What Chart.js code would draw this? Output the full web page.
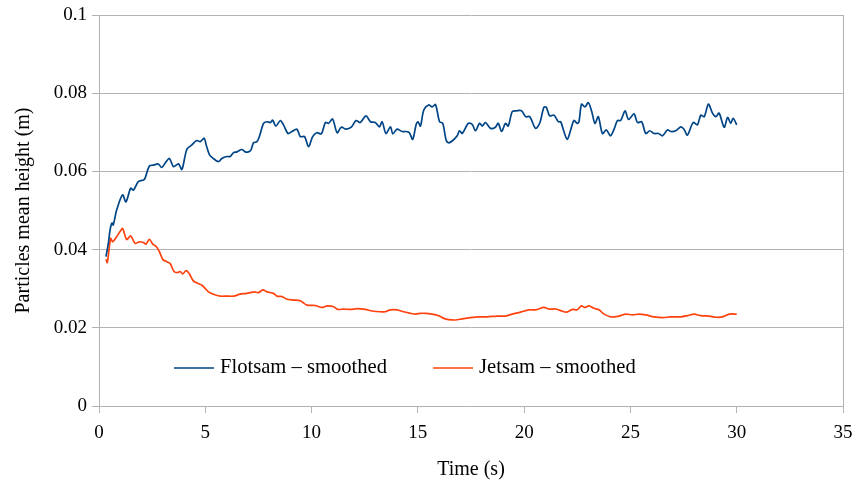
<!DOCTYPE html>
<html>
<head>
<meta charset="utf-8">
<title>Particles mean height</title>
<script src="https://cdn.jsdelivr.net/npm/chart.js@4.4.1/dist/chart.umd.min.js"></script>
<style>
  html, body { margin: 0; padding: 0; background: #fff; }
  #wrap { width: 858px; height: 487px; }
</style>
</head>
<body>
<div id="wrap"><canvas id="chart"></canvas></div>
<script>
// smoothed mean height of the particles, time in s, height in m
const flotsamTime = [
  0.33, 0.45, 0.52, 0.61, 0.67, 0.83, 1.11, 1.27, 1.49, 1.62, 1.85, 2.09, 2.17, 2.37, 2.56,
  2.79, 2.95, 3.16, 3.31, 3.50, 3.63, 3.75, 3.90, 4.13, 4.37, 4.60, 4.76, 4.95, 5.04, 5.20,
  5.38, 5.62, 5.78, 6.01, 6.17, 6.33, 6.49, 6.72, 6.88, 7.03, 7.15, 7.27, 7.43, 7.55, 7.74,
  7.90, 8.06, 8.17, 8.32, 8.53, 8.68, 8.89, 9.08, 9.31, 9.47, 9.67, 9.86, 10.05, 10.25, 10.46,
  10.65, 10.80, 10.99, 11.20, 11.40, 11.62, 11.87, 12.09, 12.29, 12.56, 12.77, 13.00, 13.19, 13.32, 13.50,
  13.71, 13.82, 14.02, 14.26, 14.45, 14.60, 14.76, 14.92, 15.01, 15.12, 15.28, 15.51, 15.67, 15.83, 16.02,
  16.17, 16.33, 16.45, 16.64, 16.85, 16.96, 17.09, 17.37, 17.56, 17.71, 17.90, 18.03, 18.18, 18.42, 18.65,
  18.78, 18.94, 19.12, 19.25, 19.44, 19.63, 19.88, 20.07, 20.26, 20.54, 20.73, 20.93, 21.04, 21.20, 21.40,
  21.61, 21.72, 21.87, 22.03, 22.19, 22.34, 22.50, 22.58, 22.70, 22.86, 23.02, 23.18, 23.33, 23.49, 23.68,
  23.87, 24.06, 24.23, 24.39, 24.54, 24.75, 24.91, 25.17, 25.33, 25.53, 25.72, 25.91, 26.11, 26.32, 26.51,
  26.74, 26.90, 27.13, 27.37, 27.52, 27.68, 27.95, 28.15, 28.31, 28.47, 28.67, 28.86, 29.02, 29.17, 29.41,
  29.57, 29.72, 29.83, 30.00
];
const flotsamHeight = [
  0.0382, 0.0420, 0.0450, 0.0468, 0.0463, 0.0501, 0.0540, 0.0522, 0.0557, 0.0552, 0.0574, 0.0578, 0.0583, 0.0614, 0.0616,
  0.0619, 0.0610, 0.0625, 0.0633, 0.0612, 0.0616, 0.0619, 0.0605, 0.0656, 0.0668, 0.0679, 0.0676, 0.0685, 0.0668, 0.0642,
  0.0633, 0.0625, 0.0633, 0.0638, 0.0638, 0.0648, 0.0650, 0.0656, 0.0650, 0.0650, 0.0655, 0.0673, 0.0676, 0.0690, 0.0723,
  0.0727, 0.0725, 0.0731, 0.0716, 0.0730, 0.0719, 0.0697, 0.0702, 0.0708, 0.0689, 0.0689, 0.0663, 0.0689, 0.0699, 0.0696,
  0.0725, 0.0723, 0.0734, 0.0699, 0.0713, 0.0708, 0.0713, 0.0730, 0.0725, 0.0742, 0.0727, 0.0725, 0.0714, 0.0727, 0.0697,
  0.0714, 0.0696, 0.0708, 0.0702, 0.0702, 0.0699, 0.0682, 0.0720, 0.0727, 0.0716, 0.0757, 0.0770, 0.0765, 0.0771, 0.0727,
  0.0723, 0.0680, 0.0673, 0.0679, 0.0691, 0.0704, 0.0697, 0.0723, 0.0720, 0.0704, 0.0723, 0.0716, 0.0725, 0.0710, 0.0713,
  0.0723, 0.0702, 0.0723, 0.0716, 0.0753, 0.0755, 0.0755, 0.0740, 0.0740, 0.0710, 0.0723, 0.0764, 0.0764, 0.0742, 0.0744,
  0.0727, 0.0727, 0.0702, 0.0682, 0.0706, 0.0730, 0.0723, 0.0727, 0.0772, 0.0765, 0.0776, 0.0753, 0.0723, 0.0740, 0.0697,
  0.0706, 0.0691, 0.0708, 0.0730, 0.0730, 0.0755, 0.0733, 0.0747, 0.0725, 0.0727, 0.0697, 0.0704, 0.0697, 0.0697, 0.0691,
  0.0706, 0.0702, 0.0704, 0.0714, 0.0708, 0.0693, 0.0725, 0.0719, 0.0744, 0.0740, 0.0772, 0.0749, 0.0740, 0.0749, 0.0713,
  0.0738, 0.0723, 0.0736, 0.0719
];

const jetsamTime = [
  0.33, 0.39, 0.49, 0.55, 0.64, 0.83, 0.99, 1.11, 1.30, 1.49, 1.70, 1.90, 2.09, 2.21, 2.37,
  2.53, 2.69, 2.84, 3.00, 3.19, 3.34, 3.53, 3.69, 3.82, 3.94, 4.10, 4.25, 4.44, 4.63, 4.84,
  4.99, 5.15, 5.38, 5.70, 6.01, 6.33, 6.64, 6.96, 7.11, 7.30, 7.50, 7.71, 7.90, 8.21, 8.37,
  8.61, 8.84, 9.15, 9.47, 9.78, 10.17, 10.49, 10.73, 11.04, 11.23, 11.51, 11.82, 12.14, 12.53, 12.85,
  13.24, 13.47, 13.71, 14.02, 14.33, 14.65, 14.89, 15.12, 15.36, 15.67, 15.98, 16.22, 16.45, 16.77, 17.09,
  17.48, 17.87, 18.26, 18.73, 19.13, 19.44, 19.83, 20.22, 20.54, 20.93, 21.16, 21.48, 21.72, 22.00, 22.27,
  22.50, 22.69, 22.85, 23.05, 23.28, 23.52, 23.76, 24.07, 24.39, 24.78, 25.09, 25.41, 25.72, 26.11, 26.51,
  26.90, 27.37, 27.68, 28.00, 28.31, 28.70, 29.02, 29.33, 29.65, 30.00
];
const jetsamHeight = [
  0.0375, 0.0367, 0.0408, 0.0429, 0.0420, 0.0433, 0.0446, 0.0454, 0.0426, 0.0435, 0.0416, 0.0420, 0.0418, 0.0414, 0.0426,
  0.0414, 0.0408, 0.0395, 0.0375, 0.0369, 0.0365, 0.0344, 0.0341, 0.0344, 0.0338, 0.0346, 0.0338, 0.0320, 0.0314, 0.0309,
  0.0301, 0.0292, 0.0286, 0.0281, 0.0281, 0.0281, 0.0286, 0.0288, 0.0290, 0.0292, 0.0290, 0.0297, 0.0292, 0.0288, 0.0281,
  0.0280, 0.0273, 0.0271, 0.0269, 0.0258, 0.0257, 0.0252, 0.0256, 0.0254, 0.0247, 0.0248, 0.0247, 0.0249, 0.0247, 0.0243,
  0.0241, 0.0241, 0.0246, 0.0246, 0.0241, 0.0237, 0.0235, 0.0237, 0.0237, 0.0235, 0.0231, 0.0224, 0.0221, 0.0220, 0.0223,
  0.0226, 0.0228, 0.0228, 0.0230, 0.0230, 0.0235, 0.0240, 0.0246, 0.0246, 0.0252, 0.0248, 0.0248, 0.0244, 0.0240, 0.0247,
  0.0246, 0.0256, 0.0252, 0.0256, 0.0250, 0.0246, 0.0235, 0.0228, 0.0229, 0.0235, 0.0233, 0.0235, 0.0233, 0.0228, 0.0226,
  0.0228, 0.0228, 0.0231, 0.0235, 0.0231, 0.0230, 0.0227, 0.0228, 0.0235, 0.0235
];

const xTicks = [0, 5, 10, 15, 20, 25, 30, 35];
const yTicks = [0, 0.02, 0.04, 0.06, 0.08, 0.1];

const gridColor = "#b3b3b3";
const serif = "'Liberation Serif', 'DejaVu Serif', serif";

function points(xs, ys) {
  return xs.map((x, i) => ({ x: x, y: ys[i] }));
}

// legend drawn inside the plot area, one row near the bottom
const insideLegend = {
  id: "insideLegend",
  afterDraw(chart) {
    const { ctx, chartArea } = chart;
    const y = chartArea.bottom - 38;
    let x = chartArea.left + 75;
    ctx.save();
    ctx.font = "20.6px " + serif;
    ctx.textBaseline = "middle";
    chart.data.datasets.forEach((ds) => {
      ctx.strokeStyle = ds.borderColor;
      ctx.lineWidth = 1.5;
      ctx.beginPath();
      ctx.moveTo(x, y);
      ctx.lineTo(x + 40, y);
      ctx.stroke();
      ctx.fillStyle = "#000";
      ctx.fillText(ds.label, x + 46, y);
      x += 46 + ctx.measureText(ds.label).width + 46;
    });
    ctx.restore();
  },
};

new Chart(document.getElementById("chart"), {
  type: "line",
  data: {
    datasets: [
      {
        label: "Flotsam – smoothed",
        data: points(flotsamTime, flotsamHeight),
        borderColor: "#004586",
        borderWidth: 1.7,
        pointRadius: 0,
        tension: 0.3,
      },
      {
        label: "Jetsam – smoothed",
        data: points(jetsamTime, jetsamHeight),
        borderColor: "#ff420e",
        borderWidth: 1.7,
        pointRadius: 0,
        tension: 0.3,
      },
    ],
  },
  options: {
    responsive: true,
    maintainAspectRatio: false,
    animation: false,
    layout: { padding: { top: 15, right: 15, left: 0, bottom: 0 } },
    plugins: {
      legend: { display: false },
      tooltip: { enabled: false },
    },
    scales: {
      x: {
        type: "linear",
        min: 0,
        max: 35,
        afterBuildTicks: (scale) => { scale.ticks = xTicks.map((v) => ({ value: v })); },
        afterFit: (scale) => {
          scale.height = 81;
          scale.paddingLeft = 0;
          scale.paddingRight = 0;
        },
        ticks: { color: "#000", font: { family: serif, size: 19 }, padding: 9, maxRotation: 0 },
        grid: {
          color: (c) => (c.tick && c.tick.value === 35 ? gridColor : "rgba(0,0,0,0)"),
          tickColor: gridColor,
          tickLength: 7,
        },
        border: { color: gridColor },
        title: {
          display: true,
          text: "Time (s)",
          color: "#000",
          font: { family: serif, size: 20 },
          padding: { top: 4, bottom: 5 },
        },
      },
      y: {
        min: 0,
        max: 0.1,
        afterBuildTicks: (scale) => { scale.ticks = yTicks.map((v) => ({ value: v })); },
        afterFit: (scale) => {
          scale.width = 99;
          scale.paddingTop = 0;
          scale.paddingBottom = 0;
        },
        ticks: {
          color: "#000",
          font: { family: serif, size: 19 },
          padding: 5,
          callback: (v) => String(Math.round(v * 100) / 100),
        },
        grid: { color: gridColor, tickColor: gridColor, tickLength: 7 },
        border: { color: gridColor },
        title: {
          display: true,
          text: "Particles mean height (m)",
          color: "#000",
          font: { family: serif, size: 20 },
          padding: { top: 12, bottom: 4 },
        },
      },
    },
  },
  plugins: [insideLegend],
});
</script>
</body>
</html>
